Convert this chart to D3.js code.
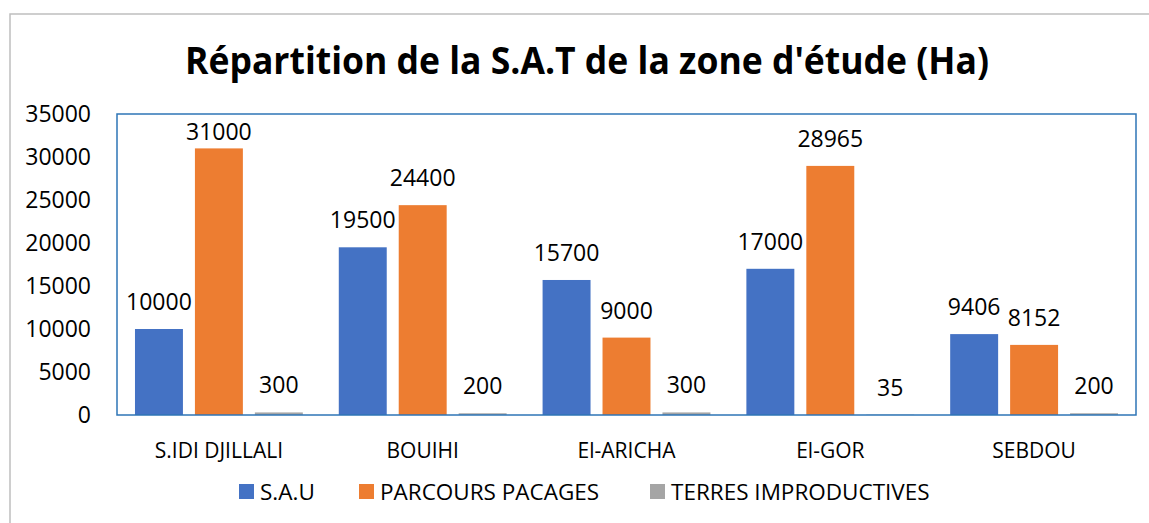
<!DOCTYPE html>
<html>
<head>
<meta charset="utf-8">
<script src="https://cdn.jsdelivr.net/npm/d3@7"></script>
<style>
  body { margin: 0; background: #fff; }
  text { font-family: "Open Sans", sans-serif; fill: #000; }
</style>
</head>
<body>
<div id="chart"></div>
<script>
// categories and series
var zones = ["S.IDI DJILLALI", "BOUIHI", "El-ARICHA", "El-GOR", "SEBDOU"];
var seriesNames = ["S.A.U", "PARCOURS PACAGES", "TERRES IMPRODUCTIVES"];
var sau = [10000, 19500, 15700, 17000, 9406];
var parcours = [31000, 24400, 9000, 28965, 8152];
var terres = [300, 200, 300, 35, 200];
var yTicks = [0, 5000, 10000, 15000, 20000, 25000, 30000, 35000];
var colors = ["#4472c4", "#ed7d31", "#a5a5a5"];

var seriesValues = [sau, parcours, terres];

let svg = d3.select("#chart")
            .append("svg")
            .attr("width", 1149)
            .attr("height", 523);

// outer chart border (only top and left visible)
svg.append("path")
   .attr("d", "M10,523 V14 H1149")
   .attr("fill", "none")
   .attr("stroke", "#bfbfbf")
   .attr("stroke-width", 1.5);

// title
let title = svg.append("text")
   .attr("x", 587)
   .attr("y", 74)
   .attr("text-anchor", "middle")
   .style("font-weight", "bold")
   .style("font-size", "37px")
   .text("Répartition de la S.A.T de la zone d'étude (Ha)");
let tw = title.node().getComputedTextLength();
if (tw > 804) {
  title.attr("textLength", 804).attr("lengthAdjust", "spacingAndGlyphs");
}

let plotLeft = 117, plotRight = 1136, plotTop = 114, plotBottom = 415;

let y = d3.scaleLinear().domain([0, 35000]).range([plotBottom, plotTop]);
let x0 = d3.scaleBand().domain(zones).range([plotLeft, plotRight]);
let x1 = d3.scaleBand().domain(seriesNames)
           .range([0, x0.bandwidth()])
           .paddingInner(0.2)
           .paddingOuter(0.3);

// y axis labels
let yAxis = d3.axisLeft(y).tickValues(yTicks).tickSize(0).tickPadding(0).tickFormat(d3.format("d"));
let gy = svg.append("g")
   .attr("transform", "translate(91,0)")
   .call(yAxis);
gy.select(".domain").remove();
gy.selectAll("text")
  .style("font-size", "23px")
  .style("font-family", "'Open Sans', sans-serif")
  .attr("fill", "#000");

// bars
let groups = svg.selectAll("g.zone")
  .data(zones)
  .enter()
  .append("g")
  .attr("class", "zone")
  .attr("transform", (d) => "translate(" + x0(d) + ",0)");

let cells = groups.selectAll("g.cell")
  .data((d, i) => seriesNames.map((s, j) => ({ s: s, j: j, v: seriesValues[j][i] })))
  .enter()
  .append("g")
  .attr("class", "cell");

cells.append("rect")
  .attr("x", (d) => x1(d.s))
  .attr("y", (d) => y(d.v))
  .attr("width", x1.bandwidth())
  .attr("height", (d) => plotBottom - y(d.v))
  .attr("fill", (d) => colors[d.j]);

cells.append("text")
  .attr("x", (d) => x1(d.s) + x1.bandwidth() / 2)
  .attr("y", (d) => Math.max(y(d.v) - 19, plotTop + 26))
  .attr("text-anchor", "middle")
  .style("font-size", "23px")
  .text((d) => d.v);

// plot area border
svg.append("rect")
   .attr("x", plotLeft)
   .attr("y", plotTop)
   .attr("width", plotRight - plotLeft)
   .attr("height", plotBottom - plotTop)
   .attr("fill", "none")
   .attr("stroke", "#2e75b6")
   .attr("stroke-width", 1.5);

// x axis labels
let xAxis = d3.axisBottom(x0).tickSize(0).tickPadding(0);
let gx = svg.append("g")
   .attr("transform", "translate(0,441)")
   .call(xAxis);
gx.select(".domain").remove();
gx.selectAll("text")
  .style("font-size", "21px")
  .style("font-family", "'Open Sans', sans-serif")
  .attr("fill", "#000")
  .attr("dy", "0.8em");

// legend
let legendX = [239, 359, 650];
let legend = svg.selectAll("g.legend")
  .data(seriesNames)
  .enter()
  .append("g")
  .attr("class", "legend")
  .attr("transform", (d, i) => "translate(" + legendX[i] + ",484)");

legend.append("rect")
  .attr("width", 15)
  .attr("height", 15)
  .attr("fill", (d, i) => colors[i]);

legend.append("text")
  .attr("x", 21)
  .attr("y", 15.5)
  .style("font-size", "22.5px")
  .text((d) => d);
</script>
</body>
</html>
